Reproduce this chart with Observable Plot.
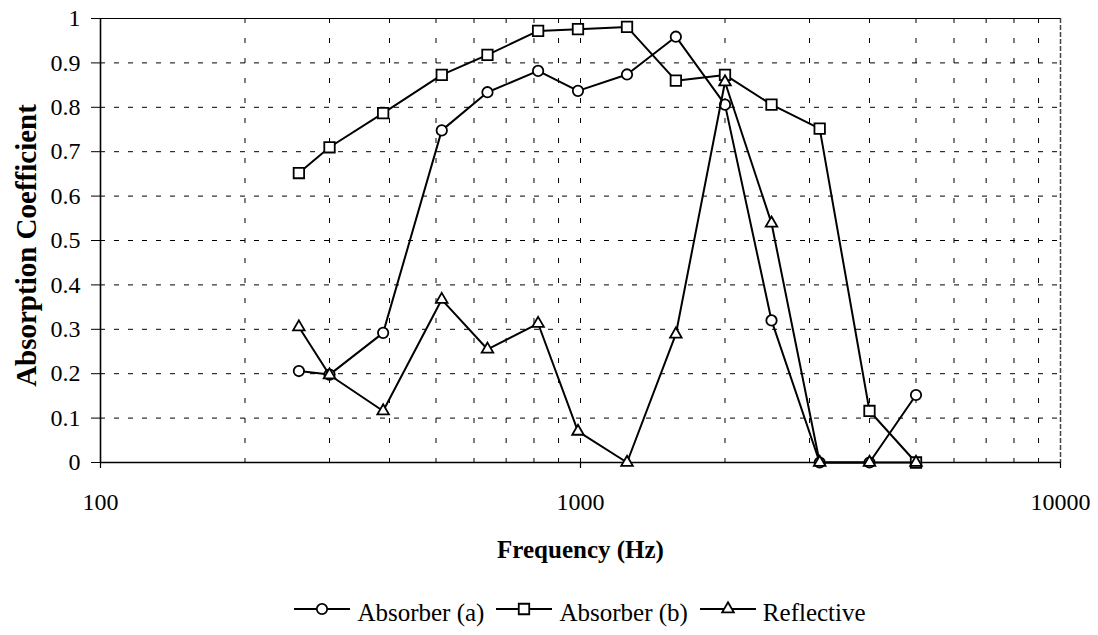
<!DOCTYPE html>
<html>
<head>
<meta charset="utf-8">
<script src="https://cdn.jsdelivr.net/npm/d3@7"></script>
<script src="https://cdn.jsdelivr.net/npm/@observablehq/plot@0.6"></script>
<style>
  html, body { margin: 0; padding: 0; background: #fff; }
  body { font-family: "Liberation Serif", "Times New Roman", serif; width: 1098px; }
  #legend { height: 45px; line-height: 45px; padding-left: 62px; text-align: center; font-size: 25px; white-space: nowrap; color: #000; }
  #legend svg { vertical-align: 2.5px; margin-right: 7px; }
  #legend .item { margin-right: 12px; }
</style>
</head>
<body>
<div id="chart"></div>
<div id="legend"></div>
<script>
// ---- data ----
const frequencies = [259, 300, 388, 514, 640, 816, 988, 1250, 1580, 2000, 2500, 3150, 4000, 5000];
const absorberA   = [0.206, 0.198, 0.292, 0.748, 0.834, 0.882, 0.837, 0.874, 0.959, 0.806, 0.320, 0, 0, 0.152];
const absorberB   = [0.652, 0.710, 0.787, 0.873, 0.918, 0.972, 0.976, 0.981, 0.860, 0.873, 0.806, 0.752, 0.116, 0];
const reflective  = [0.305, 0.197, 0.116, 0.367, 0.255, 0.313, 0.070, 0, 0.289, 0.857, 0.539, 0, 0, 0];
const seriesNames = ["Absorber (a)", "Absorber (b)", "Reflective"];
const seriesSymbols = ["circle", "square", "triangle"];
const yTicks = [0, 0.1, 0.2, 0.3, 0.4, 0.5, 0.6, 0.7, 0.8, 0.9, 1];
const xTicks = [100, 1000, 10000];
const xGrid = [200, 300, 400, 500, 600, 700, 800, 900, 1000, 2000, 3000, 4000, 5000, 6000, 7000, 8000, 9000];
const xLabel = "Frequency (Hz)";
const yLabel = "Absorption Coefficient";

const seriesValues = [absorberA, absorberB, reflective];
const markerR = [5.2, 5.9, 4.3];

const rows = seriesValues.map((vals, s) =>
  frequencies.map((f, i) => ({ series: seriesNames[s], freq: f, value: vals[i] }))
);

const seriesMarks = rows.flatMap((data, s) => [
  Plot.line(data, { x: "freq", y: "value", stroke: "#000", strokeWidth: 2 }),
  Plot.dot(data, { x: "freq", y: "value", symbol: () => seriesSymbols[s], r: markerR[s], fill: "#fff", stroke: "#000", strokeWidth: 1.8 })
]);

const chart = Plot.plot({
  width: 1098,
  height: 590,
  marginLeft: 100,
  marginRight: 38,
  marginTop: 18,
  marginBottom: 128,
  style: { fontFamily: "'Liberation Serif', 'Times New Roman', serif", fontSize: "24px", background: "#fff", color: "#000", overflow: "visible" },
  x: { type: "log", domain: [100, 10000] },
  y: { domain: [0, 1] },
  symbol: { domain: seriesSymbols, range: seriesSymbols },
  marks: [
    Plot.ruleY(yTicks.filter(d => d > 0 && d < 1), { stroke: "#000", strokeWidth: 1, strokeDasharray: "5,9" }),
    Plot.ruleX(xGrid, { stroke: "#000", strokeWidth: 1, strokeDasharray: "5,15" }),
    Plot.ruleX([10000], { stroke: "#444", strokeWidth: 1.5, strokeDasharray: "5,2" }),
    Plot.ruleY([1], { stroke: "#000", strokeWidth: 1 }),
    Plot.axisY(yTicks, { tickSize: 9, tickPadding: 11, tickFormat: d => String(d), fontSize: 24, label: null, strokeWidth: 1 }),
    Plot.axisX(xTicks, { tickSize: 6, tickPadding: 24, tickFormat: d => String(d), fontSize: 24, label: null, strokeWidth: 1.2 }),
    Plot.ruleX([100], { stroke: "#000", strokeWidth: 1.6 }),
    Plot.ruleY([0], { stroke: "#000", strokeWidth: 1.6 }),
    ...seriesMarks,
    Plot.text([xLabel], { frameAnchor: "bottom", lineAnchor: "middle", textAnchor: "middle", dy: 87, fontWeight: "bold", fontSize: 25, fill: "#000" }),
    Plot.text([yLabel], { frameAnchor: "left", lineAnchor: "middle", textAnchor: "middle", rotate: -90, dx: -74, dy: 5, fontWeight: "bold", fontSize: 29, fill: "#000" })
  ]
});
document.getElementById("chart").appendChild(chart);

// ---- legend (HTML, below the SVG) ----
const symbolTypes = { circle: d3.symbolCircle, square: d3.symbolSquare, triangle: d3.symbolTriangle };
const legend = document.getElementById("legend");
seriesNames.forEach((name, i) => {
  const r = markerR[i];
  const path = d3.symbol().type(symbolTypes[seriesSymbols[i]]).size(Math.PI * r * r)();
  const span = document.createElement("span");
  span.className = "item";
  if (i === seriesNames.length - 1) span.style.marginRight = "0";
  span.innerHTML =
    `<svg width="56" height="20"><line x1="0" x2="56" y1="10" y2="10" stroke="#000" stroke-width="2"/>` +
    `<path d="${path}" transform="translate(28,10)" fill="#fff" stroke="#000" stroke-width="1.8"/></svg>` +
    `<span>${name}</span>`;
  legend.appendChild(span);
});
</script>
</body>
</html>
